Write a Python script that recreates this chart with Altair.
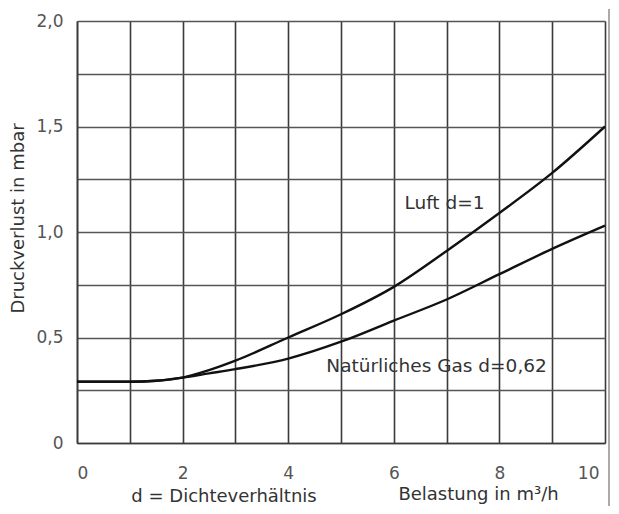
import altair as alt
import pandas as pd

# Belastung in m³/h
x_vals = [0, 1, 1.5, 2, 2.5, 3, 4, 5, 6, 7, 8, 9, 10]
# Druckverlust in mbar
luft = [0.29, 0.29, 0.295, 0.31, 0.345, 0.39, 0.50, 0.61, 0.74, 0.91, 1.09, 1.28, 1.50]
gas = [0.29, 0.29, 0.295, 0.31, 0.33, 0.35, 0.40, 0.48, 0.58, 0.68, 0.80, 0.92, 1.03]

series_names = ["Luft d=1", "Natürliches Gas d=0,62"]
label_x = [6.96, 6.81]
label_y = [1.137, 0.365]

x_ticks = list(range(0, 11))
y_ticks = [0, 0.25, 0.5, 0.75, 1.0, 1.25, 1.5, 1.75, 2.0]

FONT = "DejaVu Sans"

rows = []
for xv, a, b in zip(x_vals, luft, gas):
    rows.append({"x": xv, "y": a, "s": series_names[0]})
    rows.append({"x": xv, "y": b, "s": series_names[1]})
df = pd.DataFrame(rows)
labels_df = pd.DataFrame({"x": label_x, "y": label_y, "t": series_names})
note_df = pd.DataFrame({"t": ["d = Dichteverhältnis"]})

xscale = alt.Scale(domain=[0, 10], nice=False)
yscale = alt.Scale(domain=[0, 2], nice=False)

xaxis = alt.Axis(
    values=x_ticks,
    labelExpr="datum.value % 2 == 0 ? datum.label : ''",
    labelOffset={"condition": {"test": "datum.value == 10", "value": -6}, "value": 0},
    grid=True, gridColor="#3a3a3a", gridWidth=1.6, gridOpacity=1,
    domain=True, domainColor="#3a3a3a", domainWidth=1.6,
    ticks=False, labelPadding=22,
    labelFont=FONT, labelFontSize=17, labelColor="#555555",
    title="Belastung in m³/h", titleFont=FONT, titleFontSize=18,
    titleFontWeight="normal", titleColor="#333333",
    titleX=401, titleY=56, titleBaseline="alphabetic",
)
yaxis = alt.Axis(
    values=y_ticks,
    labelExpr="datum.value == 0 ? '0' : (datum.value % 0.5 == 0 ? replace(format(datum.value, '.1f'), '.', ',') : '')",
    grid=True, gridColor="#555555", gridWidth=1.6, gridOpacity=1,
    domain=True, domainColor="#3a3a3a", domainWidth=1.6,
    ticks=False, labelPadding=14,
    labelFont=FONT, labelFontSize=17, labelColor="#555555",
    title="Druckverlust in mbar", titleFont=FONT, titleFontSize=18,
    titleFontWeight="normal", titleColor="#333333",
    titleX=-59, titleY=197, titleBaseline="middle", titleAngle=-90,
)

lines = alt.Chart(df).mark_line(color="#111111", strokeWidth=2.4, interpolate="monotone").encode(
    x=alt.X("x:Q", scale=xscale, axis=xaxis),
    y=alt.Y("y:Q", scale=yscale, axis=yaxis),
    detail="s:N",
)

labels = alt.Chart(labels_df).mark_text(
    font=FONT, fontSize=18.5, color="#333333", align="center", baseline="middle"
).encode(
    x=alt.X("x:Q", scale=xscale),
    y=alt.Y("y:Q", scale=yscale),
    text="t:N",
)

note = alt.Chart(note_df).mark_text(
    font=FONT, fontSize=18, color="#333333", align="center", baseline="alphabetic"
).encode(
    x=alt.value(147), y=alt.value(481), text="t:N",
)

edge = alt.Chart(note_df).mark_rule(color="#aaaaaa", strokeWidth=2).encode(
    x=alt.value(532), y=alt.value(-12), y2=alt.value(490),
)

chart = alt.layer(lines, labels, note, edge).properties(
    width=528, height=422,
    autosize=alt.AutoSizeParams(type="none"),
    padding={"left": 69, "top": 13, "right": 6, "bottom": 63},
).configure_view(stroke=None).configure(background="white")

chart.save("out.html", embed_options={"renderer": "svg", "actions": False})
